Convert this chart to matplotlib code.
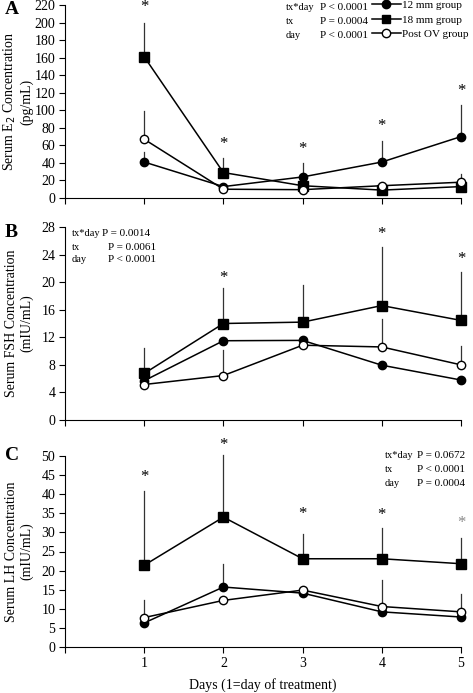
import matplotlib
matplotlib.use("Agg")
import matplotlib.pyplot as plt
from matplotlib.lines import Line2D

plt.rcParams['font.family'] = ['Liberation Serif', 'DejaVu Serif']

days = [1, 2, 3, 4, 5]

# Panel A: E2
e2_12 = [41, 13, 24, 41, 70]
e2_12_up = [53, 13, 40, 65, 106]
e2_18 = [161, 29, 14, 9, 13]
e2_18_up = [199, 46, 14, 9, 13]
e2_ov = [67, 10, 9.5, 14, 18]
e2_ov_up = [99, 10, 9.5, 14, 27]
e2_star = [218, 62, 56, 82, 122]
e2_ticks = list(range(0, 221, 20))
p_labels = ["tx*day", "tx", "day"]
e2_pv = ["P < 0.0001", "P = 0.0004", "P < 0.0001"]

# Panel B: FSH
fsh_12 = [5.7, 11.5, 11.55, 7.95, 5.8]
fsh_12_up = [5.7, 11.5, 11.55, 7.95, 5.8]
fsh_18 = [6.75, 14.0, 14.2, 16.6, 14.45]
fsh_18_up = [10.4, 19.1, 19.6, 25.1, 21.5]
fsh_ov = [5.15, 6.45, 10.85, 10.6, 8.0]
fsh_ov_up = [5.15, 10.1, 10.85, 14.6, 10.8]
fsh_star_days = [2, 4, 5]
fsh_star = [20.6, 27.0, 23.4]
fsh_ticks = list(range(0, 29, 4))
fsh_pv = ["P = 0.0014", "P = 0.0061", "P < 0.0001"]

# Panel C: LH
lh_12 = [6.3, 15.7, 14.1, 9.2, 7.85]
lh_12_up = [6.3, 21.6, 14.1, 9.2, 7.85]
lh_18 = [21.4, 34.0, 23.1, 23.1, 21.8]
lh_18_up = [40.75, 50.2, 29.5, 31.2, 28.6]
lh_ov = [7.7, 12.2, 14.9, 10.6, 9.2]
lh_ov_up = [12.2, 12.2, 14.9, 17.6, 14.0]
lh_star = [44.5, 53, 34.9, 34.5, 32.5]
lh_ticks = list(range(0, 51, 5))
lh_pv = ["P = 0.0672", "P < 0.0001", "P = 0.0004"]

fig = plt.figure(figsize=(4.73, 6.93), dpi=100)
W, H = 473, 693
AX_W = 461 - 65

def make_ax(top_px, bot_px):
    left = 65 / W
    right = 461 / W
    return fig.add_axes([left, 1 - bot_px / H, right - left, (bot_px - top_px) / H])

axA = make_ax(5, 198)
axB = make_ax(227, 420)
axC = make_ax(456, 647)

def draw(ax, s12, u12, s18, u18, sov, uov):
    for s, u in [(s18, u18), (sov, uov), (s12, u12)]:
        for d, v, t in zip(days, s, u):
            if t > v:
                ax.plot([d, d], [v, t], color='#333333', lw=0.9, zorder=1,
                        clip_on=False)
    ax.plot(days, s12, '-o', color='black', mfc='black', ms=6, lw=1.1, zorder=3, clip_on=False)
    ax.plot(days, s18, '-s', color='black', mfc='black', ms=6.5, lw=1.1, zorder=3, clip_on=False)
    ax.plot(days, sov, '-o', color='black', mfc='white', ms=6, lw=1.1, zorder=4, clip_on=False)

def style(ax, ticks, ylabel, show_x):
    ax.set_xlim(0, 5)
    ax.set_ylim(ticks[0], ticks[-1])
    ax.set_yticks(ticks)
    ax.set_xticks([0] + days)
    if show_x:
        ax.set_xticklabels([''] + [str(d) for d in days])
    else:
        ax.set_xticklabels([])
    ax.spines['top'].set_visible(False)
    ax.spines['right'].set_visible(False)
    ax.tick_params(axis='both', labelsize=10, length=4, width=0.8, direction='out', pad=3)
    ax.set_ylabel(ylabel, fontsize=10, linespacing=1.15)
    ax.yaxis.set_label_coords(-32 / AX_W, 0.5)

draw(axA, e2_12, e2_12_up, e2_18, e2_18_up, e2_ov, e2_ov_up)
style(axA, e2_ticks, "Serum E$_2$ Concentration\n(pg/mL)", False)
for d, s in zip(days, e2_star):
    axA.text(d, s, '*', ha='center', va='center', fontsize=12)

draw(axB, fsh_12, fsh_12_up, fsh_18, fsh_18_up, fsh_ov, fsh_ov_up)
style(axB, fsh_ticks, "Serum FSH Concentration\n(mIU/mL)", False)
for d, s in zip(fsh_star_days, fsh_star):
    axB.text(d, s, '*', ha='center', va='center', fontsize=12)

draw(axC, lh_12, lh_12_up, lh_18, lh_18_up, lh_ov, lh_ov_up)
style(axC, lh_ticks, "Serum LH Concentration\n(mIU/mL)", True)
for i, (d, s) in enumerate(zip(days, lh_star)):
    axC.text(d, s, '*', ha='center', va='center', fontsize=12,
             color='#888888' if i == 4 else 'black')
axC.set_xlabel("Days (1=day of treatment)", fontsize=10, labelpad=6)

# p-value annotations
def ptext(x_lab, x_vals, y0, vals, step=14):
    for i, (lab, v, xv) in enumerate(zip(p_labels, vals, x_vals)):
        y = y0 + i * step
        fig.text(x_lab / W, 1 - y / H, lab, fontsize=7.5, va='center', ha='left')
        fig.text(xv / W, 1 - y / H, v, fontsize=8, va='center', ha='left')

ptext(286, [320, 320, 320], 7, e2_pv)
ptext(72, [102, 108, 108], 234, fsh_pv, step=13)
ptext(385, [417, 417, 417], 455, lh_pv)

# legend for panel A
handles = [
    Line2D([], [], color='black', marker='o', mfc='black', ms=6, lw=1.1),
    Line2D([], [], color='black', marker='s', mfc='black', ms=6, lw=1.1),
    Line2D([], [], color='black', marker='o', mfc='white', ms=6, lw=1.1),
]
labels = ["12 mm group", "18 mm group", "Post OV group"]
fig.legend(handles, labels, loc='upper left', bbox_to_anchor=(372 / W, 1 - 0 / H),
           frameon=False, fontsize=8, handlelength=2.6, handletextpad=0.1,
           labelspacing=0.45, borderpad=0.0, borderaxespad=0.0)

# panel letters
for lab, y in [("A", 10), ("B", 232), ("C", 456)]:
    fig.text(5 / W, 1 - y / H, lab, fontsize=14, fontweight='bold', va='center', ha='left')

fig.savefig("out.png", dpi=100)
